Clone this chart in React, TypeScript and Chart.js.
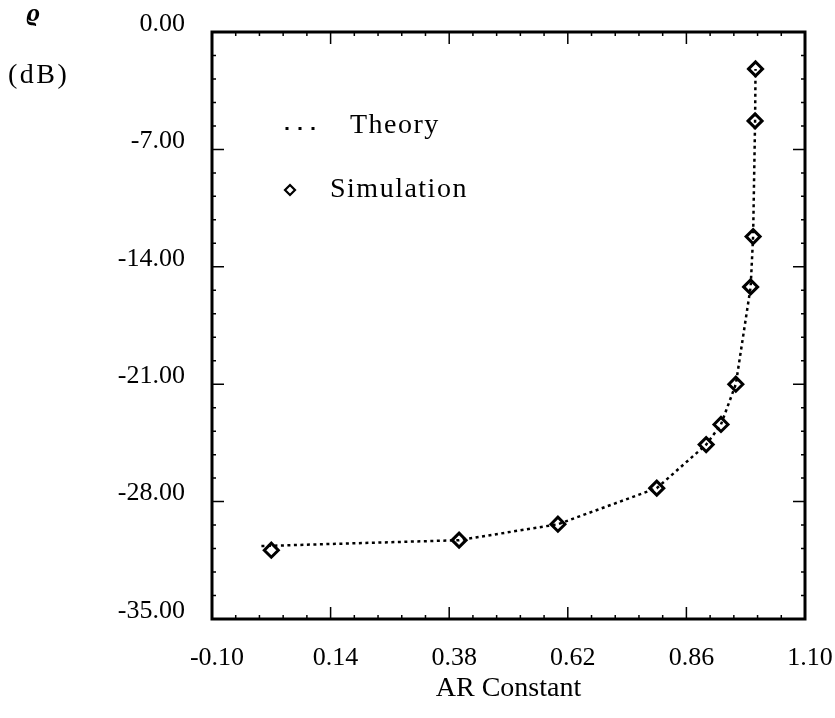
import React, { useEffect, useRef } from 'react';
import { Chart, registerables } from 'chart.js';

Chart.register(...registerables);

// Data
const theoryX = [0.0, 0.4, 0.6, 0.8, 0.9, 0.93, 0.96, 0.99, 0.995, 0.999, 0.9999];
const theoryY = [-30.65, -30.3, -29.35, -27.2, -24.6, -23.4, -21.0, -15.2, -12.2, -5.3, -2.2];
const simX = [0.02, 0.4, 0.6, 0.8, 0.9, 0.93, 0.96, 0.99, 0.995, 0.999, 0.9999];
const simY = [-30.9, -30.3, -29.35, -27.2, -24.6, -23.4, -21.0, -15.2, -12.2, -5.3, -2.2];
const xTicks = [-0.1, 0.14, 0.38, 0.62, 0.86, 1.1];
const yTicks = [0, -7, -14, -21, -28, -35];
const xTitle = 'AR Constant';
const yTitle1 = 'ϱ';
const yTitle2 = '(dB)';
const legendTheory = 'Theory';
const legendSim = 'Simulation';

const FONT = "'Liberation Serif', serif";
const MINOR = 4;

const framePlugin = {
  id: 'framePlugin',
  afterDraw(chart: any) {
    const ctx = chart.ctx as CanvasRenderingContext2D;
    const { left, right, top, bottom } = chart.chartArea;
    const xs = chart.scales.x;
    const ys = chart.scales.y;
    ctx.save();
    ctx.strokeStyle = '#000';
    ctx.lineWidth = 3;
    ctx.strokeRect(left, top, right - left, bottom - top);

    ctx.lineWidth = 1.5;
    const drawX = (v: number, len: number) => {
      const p = xs.getPixelForValue(v);
      ctx.beginPath();
      ctx.moveTo(p, bottom);
      ctx.lineTo(p, bottom - len);
      ctx.moveTo(p, top);
      ctx.lineTo(p, top + len);
      ctx.stroke();
    };
    const drawY = (v: number, len: number) => {
      const p = ys.getPixelForValue(v);
      ctx.beginPath();
      ctx.moveTo(left, p);
      ctx.lineTo(left + len, p);
      ctx.moveTo(right, p);
      ctx.lineTo(right - len, p);
      ctx.stroke();
    };
    for (let i = 0; i < xTicks.length; i++) {
      drawX(xTicks[i], 12);
      if (i < xTicks.length - 1) {
        const step = (xTicks[i + 1] - xTicks[i]) / (MINOR + 1);
        for (let k = 1; k <= MINOR; k++) drawX(xTicks[i] + k * step, 4);
      }
    }
    for (let i = 0; i < yTicks.length; i++) {
      drawY(yTicks[i], 12);
      if (i < yTicks.length - 1) {
        const step = (yTicks[i + 1] - yTicks[i]) / (MINOR + 1);
        for (let k = 1; k <= MINOR; k++) drawY(yTicks[i] + k * step, 4);
      }
    }

    // Y title
    ctx.fillStyle = '#000';
    ctx.textBaseline = 'middle';
    ctx.textAlign = 'left';
    ctx.font = `italic bold 26px ${FONT}`;
    ctx.fillText(yTitle1, 26, 14);
    ctx.font = `28px ${FONT}`;
    (ctx as any).letterSpacing = '2.5px';
    ctx.fillText(yTitle2, 8, 76);

    // Legend
    ctx.font = `28px ${FONT}`;
    (ctx as any).letterSpacing = '1.5px';
    [287, 300, 313].forEach((x) => {
      ctx.fillRect(x - 1.5, 127, 3, 3);
    });
    ctx.fillText(legendTheory, 350, 126);
    // diamond
    const dx = 290, dy = 190, r = 5;
    ctx.lineWidth = 2.2;
    ctx.beginPath();
    ctx.moveTo(dx, dy - r);
    ctx.lineTo(dx + r, dy);
    ctx.lineTo(dx, dy + r);
    ctx.lineTo(dx - r, dy);
    ctx.closePath();
    ctx.stroke();
    ctx.fillText(legendSim, 330, 190);
    ctx.restore();
  },
};

export default function App() {
  const ref = useRef<HTMLCanvasElement | null>(null);
  useEffect(() => {
    if (!ref.current) return;
    const chart = new Chart(ref.current, {
      type: 'scatter',
      data: {
        datasets: [
          {
            label: legendTheory,
            data: theoryX.map((x, i) => ({ x, y: theoryY[i] })),
            showLine: true,
            borderColor: '#000',
            borderWidth: 2.5,
            borderDash: [3, 3.5],
            pointRadius: 0,
            fill: false,
            tension: 0,
          },
          {
            label: legendSim,
            data: simX.map((x, i) => ({ x, y: simY[i] })),
            showLine: false,
            pointStyle: 'rectRot',
            pointRadius: 7,
            pointBorderWidth: 3,
            pointBorderColor: '#000',
            pointBackgroundColor: '#fff',
          },
        ],
      },
      options: {
        animation: false,
        responsive: false,
        devicePixelRatio: 1,
        layout: { padding: { top: 32, right: 30, left: 0, bottom: 0 } },
        plugins: { legend: { display: false }, tooltip: { enabled: false } },
        scales: {
          x: {
            type: 'linear',
            min: -0.1,
            max: 1.1,
            afterBuildTicks: (s: any) => {
              s.ticks = xTicks.map((v) => ({ value: v }));
            },
            afterFit: (s: any) => {
              s.height = 99;
              s.paddingLeft = 0;
              s.paddingRight = 0;
            },
            grid: { display: false, drawTicks: false },
            border: { display: false },
            ticks: {
              color: '#000',
              font: { family: FONT, size: 26 },
              padding: 24,
              labelOffset: 5,
              maxRotation: 0,
              autoSkip: false,
              callback: (v: any) => Number(v).toFixed(2),
            },
            title: {
              display: true,
              text: xTitle,
              color: '#000',
              font: { family: FONT, size: 28 },
              padding: { top: 0, bottom: 13 },
            },
          },
          y: {
            type: 'linear',
            min: -35,
            max: 0,
            afterBuildTicks: (s: any) => {
              s.ticks = yTicks.map((v) => ({ value: v }));
            },
            afterFit: (s: any) => {
              s.width = 212;
              s.paddingTop = 0;
              s.paddingBottom = 0;
            },
            grid: { display: false, drawTicks: false },
            border: { display: false },
            ticks: {
              color: '#000',
              font: { family: FONT, size: 26 },
              padding: 27,
              labelOffset: -8,
              autoSkip: false,
              callback: (v: any) => Number(v).toFixed(2),
            },
          },
        },
      },
      plugins: [framePlugin],
    });
    return () => chart.destroy();
  }, []);
  return (
    <div style={{ position: 'absolute', left: 0, top: 0, width: 835, height: 718, background: '#fff' }}>
      <canvas ref={ref} width={835} height={718} />
    </div>
  );
}
